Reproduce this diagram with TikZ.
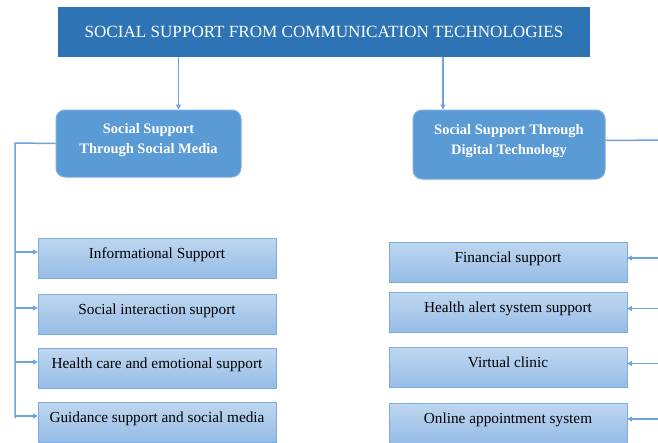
\documentclass[tikz,border=0pt]{standalone}
\usepackage{fontspec}
\setmainfont{Liberation Serif}
\usetikzlibrary{arrows.meta}
\definecolor{titleblue}{RGB}{46,116,181}
\definecolor{midblue}{RGB}{91,155,213}
\definecolor{linkblue}{RGB}{108,164,220}
\definecolor{leaftop}{RGB}{190,215,240}
\definecolor{leafbot}{RGB}{150,188,230}
\definecolor{leafedge}{RGB}{125,172,222}
\begin{document}
\begin{tikzpicture}[x=1pt,y=1pt]
    \clip (0,0) rectangle (658,-442);
    \tikzstyle{head}=[fill=titleblue, text=white, minimum width=532pt, minimum height=50pt, font=\fontsize{17.1}{20}\selectfont]
    \tikzstyle{branch}=[draw=midblue!80!white, fill=midblue, line width=1pt, rounded corners=9pt, text=white, align=center, inner ysep=0pt, font=\fontsize{14.5}{20}\selectfont\bfseries]
    \tikzstyle{leaf}=[draw=leafedge, top color=leaftop, bottom color=leafbot, minimum width=238pt, inner ysep=0pt, text height=20pt, text depth=20pt, font=\fontsize{15.3}{18}\selectfont]
    \tikzstyle{link}=[draw=linkblue, line width=1.5pt]
    \tikzstyle{tip}=[-{Triangle[length=5pt,width=5pt]}]

    \node[head] (title) at (324,-32) {SOCIAL SUPPORT FROM COMMUNICATION TECHNOLOGIES};
    \node[branch, minimum width=185pt, text height=43pt, text depth=24pt] (media) at (148.5,-143.5) {Social Support\\Through Social Media};
    \node[branch, minimum width=192pt, text height=44pt, text depth=25pt] (digital) at (509,-144.5) {Social Support Through\\Digital Technology};

    % social media side
    \node[leaf] (info) at (157,-258) {Informational Support};
    \node[leaf] (interact) at (157,-314) {Social interaction support};
    \node[leaf] (care) at (157,-368) {Health care and emotional support};
    \node[leaf] (guide) at (157,-422) {Guidance support and social media};

    % digital technology side
    \node[leaf] (finance) at (508,-262) {Financial support};
    \node[leaf] (alert) at (508,-312.5) {Health alert system support};
    \node[leaf] (clinic) at (508,-367.5) {Virtual clinic};
    \node[leaf] (booking) at (508,-423) {Online appointment system};

    \draw[link,tip] (title.south -| media.north) ++(30,0) -- ([xshift=30pt]media.north);
    \draw[link,tip] (title.south -| digital.north) ++(-66,0) -- ([xshift=-66pt]digital.north);

    \coordinate (ltop) at (15,-143);
    \coordinate (lbot) at (15,-418);
    \draw[link] (media.west) -- (ltop) -- (lbot);
    \foreach \n in {info,interact,care,guide}{
        \coordinate (\n-in) at ([yshift=6pt]\n.west);
        \draw[link,tip] (ltop |- \n-in) -- (\n-in);
    }

    \coordinate (rtop) at (668,-140);
    \coordinate (rbot) at (668,-418);
    \draw[link] ([yshift=4pt]digital.east) -- (rtop) -- (rbot);
    \foreach \n in {finance,alert,clinic,booking}{
        \coordinate (\n-in) at ([yshift=4pt]\n.east);
        \draw[link,tip] (rtop |- \n-in) -- (\n-in);
    }
\end{tikzpicture}
\end{document}
